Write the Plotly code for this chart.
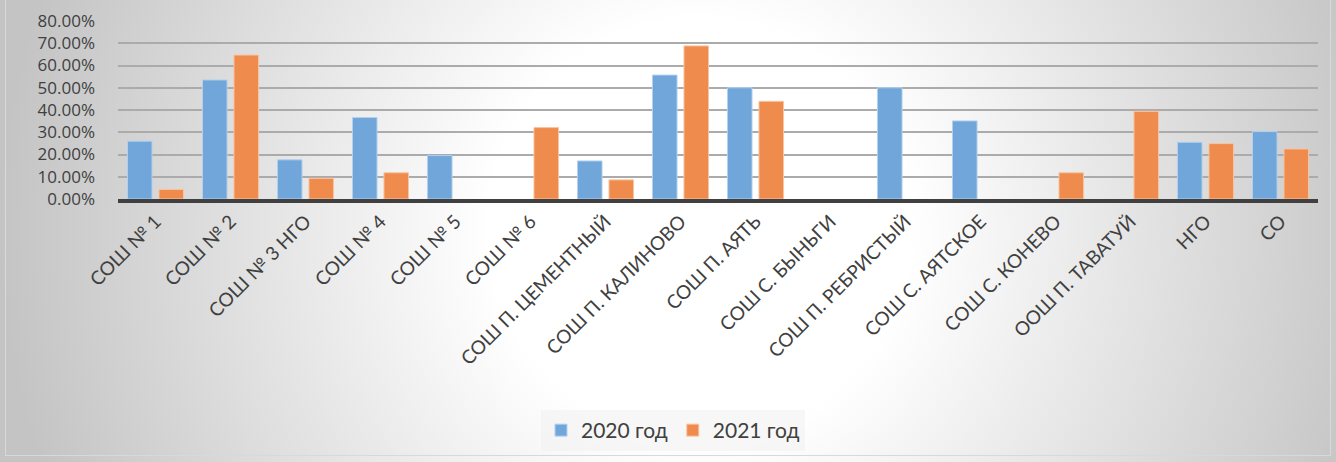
import base64
import plotly.graph_objects as go

categories = ["СОШ № 1", "СОШ № 2", "СОШ № 3 НГО", "СОШ № 4", "СОШ № 5", "СОШ № 6",
              "СОШ П. ЦЕМЕНТНЫЙ", "СОШ П. КАЛИНОВО", "СОШ П. АЯТЬ", "СОШ С. БЫНЬГИ",
              "СОШ П. РЕБРИСТЫЙ", "СОШ С. АЯТСКОЕ", "СОШ С. КОНЕВО", "ООШ П. ТАВАТУЙ",
              "НГО", "СО"]
values_2020 = [0.26, 0.535, 0.176, 0.366, 0.195, None, 0.171, 0.557, 0.50, None,
               0.50, 0.351, None, None, 0.255, 0.303]
values_2021 = [0.043, 0.647, 0.093, 0.118, None, 0.321, 0.086, 0.688, 0.439, None,
               None, None, 0.118, 0.394, 0.249, 0.225]
series_names = ["2020 год", "2021 год"]

W, H = 1336, 462
ML, MR, MT, MB = 118, 18, 21, 263

svg = f'''<svg xmlns="http://www.w3.org/2000/svg" width="{W}" height="{H}" viewBox="0 0 {W} {H}">
<defs><radialGradient id="g" gradientUnits="userSpaceOnUse" cx="700" cy="230" r="700">
<stop offset="0" stop-color="#ffffff"/><stop offset="0.3" stop-color="#ffffff"/>
<stop offset="1" stop-color="#c4c4c4"/></radialGradient></defs>
<rect x="0" y="0" width="{W}" height="{H}" fill="#c4c4c4"/>
<rect x="0" y="0" width="{W}" height="{H}" fill="url(#g)"/>
<rect x="5.5" y="-2" width="{W - 11}" height="{H - 4.5}" fill="none" stroke="#d9d9d9" stroke-width="1"/>
</svg>'''
src = "data:image/svg+xml;base64," + base64.b64encode(svg.encode("utf-8")).decode("ascii")

pw = W - ML - MR
ph = H - MT - MB

fig = go.Figure()
fig.add_trace(go.Bar(x=categories, y=values_2020, name=series_names[0],
                     marker=dict(color="#70a6da", line=dict(color="#b3d1ee", width=1))))
fig.add_trace(go.Bar(x=categories, y=values_2021, name=series_names[1],
                     marker=dict(color="#ef8c4d", line=dict(color="#f8c4a2", width=1))))

fig.update_layout(
    width=W, height=H,
    margin=dict(l=ML, r=MR, t=MT, b=MB, pad=0, autoexpand=False),
    paper_bgcolor="#ffffff",
    plot_bgcolor="rgba(0,0,0,0)",
    barmode="group", bargap=0.16, bargroupgap=0.22,
    images=[dict(source=src, xref="paper", yref="paper",
                 x=-ML / pw, y=1 + MT / ph, sizex=W / pw, sizey=H / ph,
                 xanchor="left", yanchor="top", sizing="stretch", layer="below")],
    xaxis=dict(showline=True, linecolor="#404040", linewidth=4, showgrid=False,
               automargin=False,
               tickangle=-45, ticks="", tickfont=dict(family="Lato", size=19, color="#404040")),
    yaxis=dict(range=[0, 0.8], dtick=0.1, tickformat=".2%", showgrid=True,
               automargin=False,
               gridcolor="#ababab", gridwidth=1.5, zeroline=False, ticks="",
               ticklabelstandoff=22,
               tickfont=dict(family="Open Sans", size=17, color="#404040")),
    legend=dict(orientation="h", x=(541 - ML) / pw, xanchor="left",
                y=(H - MB - 410) / ph, yanchor="top",
                bgcolor="rgba(240,240,240,0.55)", borderwidth=0,
                font=dict(family="Lato", size=21, color="#404040")),
    showlegend=True,
)

fig.write_html("out.html",
               config={"displayModeBar": False},
               post_script="document.body.style.margin='0';document.body.style.overflow='hidden';")
